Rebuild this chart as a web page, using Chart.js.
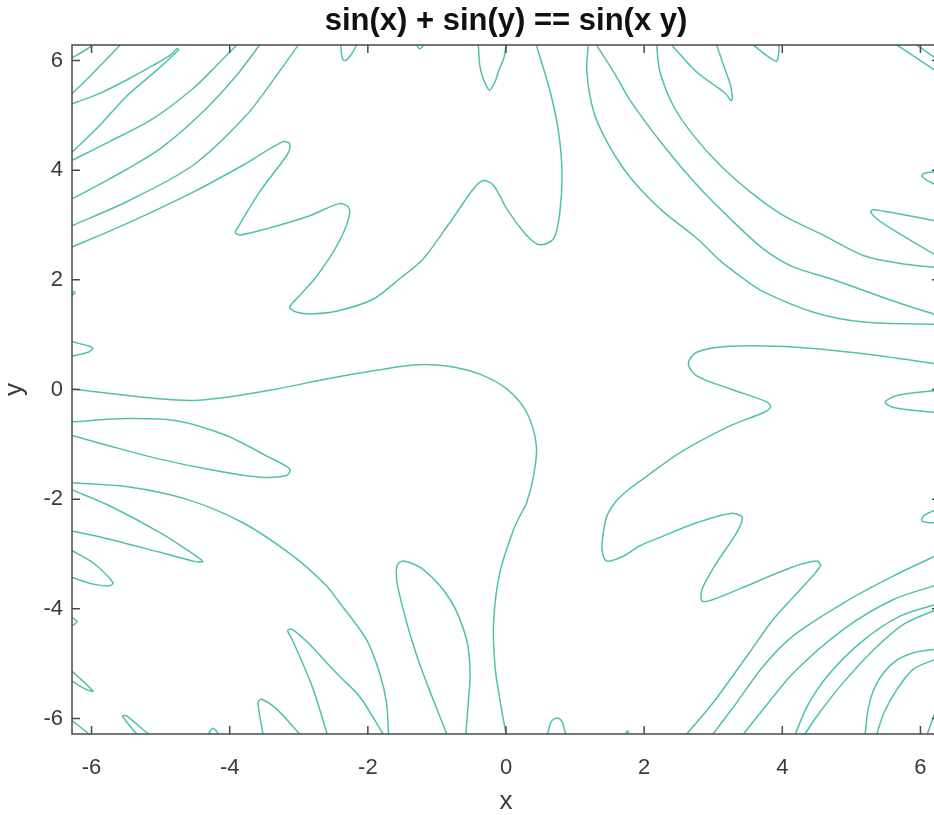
<!DOCTYPE html>
<html>
<head>
<meta charset="utf-8">
<script src="https://cdn.jsdelivr.net/npm/chart.js@4.4.0/dist/chart.umd.min.js"></script>
<style>
html, body { margin: 0; padding: 0; background: #fff; overflow: hidden; width: 934px; height: 815px; }
canvas { display: block; }
</style>
</head>
<body>
<canvas id="implicitPlot" width="940" height="815" style="width:940px;height:815px"></canvas>
<script>
// implicit curve sin(x) + sin(y) == sin(x*y), [x, y] pairs
const X_TICKS = [-6, -4, -2, 0, 2, 4, 6];
const Y_TICKS = [-6, -4, -2, 0, 2, 4, 6];
const LIMIT = 6.2832;

const cornerTopLeft = [[-6.28,6.05],[-6.13,6.16],[-5.98,6.28]];
const arcTopLeft1 = [[-6.28,5.40],[-6.08,5.64],[-5.84,5.95],[-5.59,6.28]];
const tongueTopLeft = [[-6.28,5.21],[-5.88,5.40],[-5.50,5.64],[-5.11,5.91],[-4.86,6.10],[-4.76,6.22],[-4.74,6.20],[-4.80,6.12],[-5.06,5.82],[-5.50,5.34],[-5.88,4.82],[-6.28,4.33]];
const arcTopLeft2 = [[-6.28,4.18],[-5.74,4.52],[-5.11,4.94],[-4.53,5.49],[-4.19,5.91],[-3.90,6.28]];
const arcTopLeft3 = [[-6.28,3.48],[-5.74,3.84],[-5.01,4.39],[-4.39,5.06],[-3.90,5.73],[-3.57,6.28]];
const arcTopLeft4 = [[-6.28,2.99],[-5.50,3.42],[-4.53,4.09],[-3.76,5.00],[-3.32,5.73],[-3.01,6.28]];
const loopTop1 = [[-2.39,6.28],[-2.38,6.10],[-2.34,6.00],[-2.27,6.06],[-2.16,6.28]];
const loopTop2 = [[-1.29,6.28],[-1.25,6.21],[-1.19,6.28]];
const loopTop3 = [[-0.40,6.28],[-0.38,5.91],[-0.33,5.67],[-0.24,5.46],[-0.16,5.61],[-0.11,5.80],[-0.03,6.05],[0.0,6.28]];
const zigTop = [[-6.28,2.60],[-5.50,3.02],[-4.53,3.60],[-3.81,4.09],[-3.23,4.52],[-3.13,4.48],[-3.16,4.30],[-3.57,3.60],[-3.86,3.00],[-3.92,2.86],[-3.84,2.82],[-3.47,2.93],[-2.84,3.17],[-2.41,3.39],[-2.27,3.30],[-2.31,2.99],[-2.50,2.51],[-2.77,2.02],[-2.99,1.71],[-3.13,1.50],[-3.03,1.41],[-2.79,1.38],[-2.41,1.44],[-1.92,1.65],[-1.54,2.02],[-1.20,2.38],[-0.81,3.05],[-0.47,3.66],[-0.33,3.81],[-0.18,3.72],[0.01,3.30],[0.30,2.81],[0.49,2.64],[0.69,2.75],[0.78,3.24],[0.81,3.97],[0.76,4.70],[0.64,5.43],[0.44,6.28]];
const arcTopRight1 = [[1.19,6.28],[1.17,5.79],[1.27,5.06],[1.46,4.52],[1.70,4.03],[1.94,3.66],[2.28,3.24],[2.77,2.75],[3.10,2.35],[3.44,2.02],[3.73,1.78],[4.45,1.41],[5.18,1.23],[6.28,1.19]];
const arcTopRight2 = [[1.31,6.28],[1.56,5.79],[1.80,5.27],[2.28,4.45],[2.77,3.72],[3.25,3.11],[3.72,2.57],[4.15,2.24],[4.70,2.02],[5.66,1.59],[6.28,1.34]];
const arcTopRight3 = [[2.18,6.28],[2.23,5.79],[2.42,5.18],[2.71,4.64],[3.10,4.09],[3.54,3.60],[4.02,3.17],[4.60,2.81],[5.18,2.44],[5.76,2.29],[6.28,2.22]];
const tongueTop1 = [[2.40,6.28],[2.76,5.79],[3.15,5.43],[3.27,5.27],[3.25,5.55],[3.15,5.91],[3.05,6.28]];
const loopTop4 = [[3.58,6.28],[3.83,6.04],[3.92,5.99],[3.95,6.16],[3.95,6.28]];
const cornerTopRight1 = [[5.66,6.28],[5.95,6.04],[6.28,5.76]];
const cornerTopRight2 = [[5.95,6.28],[6.28,5.99]];
const tongueRight1 = [[6.28,3.98],[6.05,3.94],[6.02,3.89],[6.10,3.81],[6.28,3.70]];
const tongueRight2 = [[6.28,3.06],[5.66,3.21],[5.32,3.28],[5.28,3.24],[5.37,3.11],[5.66,2.87],[6.14,2.51],[6.28,2.42]];
const snakeRight = [[6.28,0.46],[5.18,0.65],[4.22,0.77],[3.25,0.79],[2.76,0.68],[2.64,0.47],[2.76,0.25],[3.25,0.01],[3.78,-0.23],[3.83,-0.32],[3.73,-0.42],[3.25,-0.66],[2.52,-1.15],[2.04,-1.58],[1.78,-1.82],[1.60,-2.03],[1.46,-2.31],[1.41,-2.61],[1.39,-2.91],[1.46,-3.13],[1.70,-3.04],[1.94,-2.85],[2.28,-2.67],[2.76,-2.43],[3.25,-2.26],[3.42,-2.33],[3.34,-2.61],[3.05,-3.16],[2.84,-3.64],[2.84,-3.86],[3.00,-3.83],[3.49,-3.58],[4.12,-3.25],[4.50,-3.13],[4.55,-3.22],[4.31,-3.58],[3.87,-4.19],[3.49,-4.86],[3.00,-5.71],[2.62,-6.28]];
const tongueRight3 = [[6.28,-0.01],[5.66,-0.11],[5.49,-0.23],[5.61,-0.33],[6.28,-0.43]];
const tongueRight4 = [[6.28,-2.16],[6.05,-2.30],[6.02,-2.40],[6.14,-2.43],[6.28,-2.43]];
const arcBottomRight1 = [[6.28,-3.00],[5.61,-3.40],[4.89,-3.89],[4.16,-4.49],[3.73,-5.04],[3.34,-5.71],[3.00,-6.28]];
const arcBottomRight2 = [[6.28,-3.55],[5.61,-3.83],[4.89,-4.37],[4.16,-5.17],[3.68,-5.90],[3.44,-6.28]];
const arcBottomRight3 = [[6.28,-3.90],[5.71,-4.13],[5.13,-4.62],[4.65,-5.23],[4.36,-5.78],[4.19,-6.28]];
const arcBottomRight4 = [[6.28,-3.99],[5.76,-4.28],[5.28,-4.80],[4.84,-5.41],[4.50,-5.96],[4.33,-6.28]];
const arcBottomRight5 = [[6.28,-4.73],[5.90,-4.80],[5.61,-4.98],[5.37,-5.35],[5.25,-5.78],[5.20,-6.28]];
const arcBottomRight6 = [[6.28,-4.89],[5.90,-5.10],[5.66,-5.47],[5.47,-5.90],[5.37,-6.28]];
const arcBottomRight7 = [[6.28,-5.65],[6.10,-6.28]];
const throughOrigin = [[-6.28,0.01],[-5.01,-0.17],[-4.53,-0.20],[-4.05,-0.14],[-3.32,0.01],[-2.60,0.19],[-1.92,0.34],[-1.29,0.45],[-0.81,0.42],[-0.38,0.28],[0.01,0.01],[0.30,-0.42],[0.44,-1.03],[0.40,-1.57],[0.30,-2.06],[0.20,-2.31],[0.11,-2.55],[-0.09,-3.34],[-0.18,-4.25],[-0.16,-5.04],[-0.09,-5.65],[0.0,-6.28]];
const tongueLeft1 = [[-6.28,0.87],[-6.03,0.79],[-5.98,0.75],[-6.05,0.68],[-6.28,0.61]];
const dotLeft1 = [[-6.28,1.80],[-6.24,1.76],[-6.28,1.72]];
const tongueLeft2 = [[-6.28,-0.59],[-5.50,-0.53],[-4.77,-0.57],[-4.05,-0.84],[-3.47,-1.21],[-3.13,-1.45],[-3.18,-1.57],[-3.57,-1.60],[-4.29,-1.46],[-5.01,-1.27],[-5.74,-1.03],[-6.28,-0.84]];
const arcBottomLeft = [[-6.28,-1.70],[-5.50,-1.77],[-4.63,-2.00],[-3.81,-2.43],[-3.08,-3.04],[-2.60,-3.58],[-2.41,-3.89],[-2.02,-4.56],[-1.83,-5.17],[-1.73,-5.71],[-1.70,-6.28]];
const tongueLeft3 = [[-6.28,-1.83],[-5.74,-2.12],[-5.01,-2.61],[-4.53,-3.00],[-4.39,-3.14],[-4.53,-3.13],[-5.01,-2.97],[-5.74,-2.73],[-6.28,-2.58]];
const tongueLeft4 = [[-6.28,-2.94],[-5.98,-3.16],[-5.69,-3.52],[-5.74,-3.58],[-5.98,-3.55],[-6.28,-3.43]];
const dotLeft2 = [[-6.28,-4.16],[-6.21,-4.23],[-6.28,-4.31]];
const tongueLeft5 = [[-6.28,-5.14],[-5.98,-5.50],[-6.08,-5.47],[-6.28,-5.32]];
const cornerBottomLeft = [[-6.28,-6.04],[-6.04,-6.28]];
const tongueBottom1 = [[-5.35,-6.28],[-5.55,-5.96],[-5.50,-5.95],[-5.18,-6.28]];
const loopBottom1 = [[-4.31,-6.28],[-4.24,-6.18],[-4.16,-6.28]];
const tongueBottom2 = [[-3.52,-6.28],[-3.59,-5.71],[-3.54,-5.65],[-3.32,-5.83],[-2.99,-6.28]];
const tongueBottom3 = [[-2.59,-6.28],[-2.79,-5.47],[-2.99,-4.86],[-3.10,-4.55],[-3.16,-4.40],[-3.10,-4.37],[-2.84,-4.65],[-2.60,-4.98],[-2.41,-5.23],[-2.12,-5.60],[-1.78,-6.28]];
const tongueBottom4 = [[-0.86,-6.28],[-1.29,-4.86],[-1.56,-3.64],[-1.58,-3.22],[-1.49,-3.13],[-1.20,-3.28],[-0.81,-3.83],[-0.57,-4.56],[-0.52,-5.17],[-0.55,-5.77],[-0.58,-6.28]];
const loopBottom2 = [[0.60,-6.28],[0.66,-6.05],[0.75,-5.99],[0.82,-6.08],[0.86,-6.28]];
const loopBottom3 = [[1.73,-6.28],[1.76,-6.23],[1.78,-6.28]];

const curves = [
	cornerTopLeft, arcTopLeft1, tongueTopLeft, arcTopLeft2, arcTopLeft3, arcTopLeft4,
	loopTop1, loopTop2, loopTop3, zigTop, arcTopRight1, arcTopRight2, arcTopRight3,
	tongueTop1, loopTop4, cornerTopRight1, cornerTopRight2, tongueRight1, tongueRight2,
	snakeRight, tongueRight3, tongueRight4, arcBottomRight1, arcBottomRight2,
	arcBottomRight3, arcBottomRight4, arcBottomRight5, arcBottomRight6, arcBottomRight7,
	throughOrigin, tongueLeft1, dotLeft1, tongueLeft2, arcBottomLeft, tongueLeft3,
	tongueLeft4, dotLeft2, tongueLeft5, cornerBottomLeft, tongueBottom1, loopBottom1,
	tongueBottom2, tongueBottom3, tongueBottom4, loopBottom2, loopBottom3,
];

const LINE_COLOR = "#4fc3a5";
const FONT = "'Liberation Sans', Arial, Helvetica, sans-serif";

// title sits over the plot box, not over the whole canvas
const centerTitle = {
	id: "centerTitle",
	afterLayout(chart) {
		const t = chart.titleBlock;
		if (!t) return;
		t.left = chart.chartArea.left;
		t.right = chart.chartArea.right;
		t.width = t.right - t.left;
	},
};

// box with inward tick marks on all four sides, like the original
const boxFrame = {
	id: "boxFrame",
	afterDatasetsDraw(chart) {
		const { ctx, chartArea: a, scales } = chart;
		ctx.save();
		ctx.strokeStyle = "#4a4a4a";
		ctx.lineWidth = 1.5;
		ctx.strokeRect(a.left, a.top, a.right - a.left, a.bottom - a.top);
		ctx.beginPath();
		X_TICKS.forEach((v) => {
			const p = scales.x.getPixelForValue(v);
			ctx.moveTo(p, a.bottom); ctx.lineTo(p, a.bottom - 8);
			ctx.moveTo(p, a.top); ctx.lineTo(p, a.top + 8);
		});
		Y_TICKS.forEach((v) => {
			const p = scales.y.getPixelForValue(v);
			ctx.moveTo(a.left, p); ctx.lineTo(a.left + 8, p);
			ctx.moveTo(a.right, p); ctx.lineTo(a.right - 8, p);
		});
		ctx.stroke();
		ctx.restore();
	},
};

function drawChart() {
	const ctx = document.getElementById("implicitPlot");
	new Chart(ctx, {
		type: "scatter",
		data: {
			datasets: curves.map((c) => ({
				data: c.map(([x, y]) => ({ x, y })),
				showLine: true,
				borderColor: LINE_COLOR,
				borderWidth: 1.5,
				pointRadius: 0,
				tension: 0.3,
			})),
		},
		options: {
			responsive: false,
			animation: false,
			events: [],
			layout: { padding: 0 },
			plugins: {
				legend: { display: false },
				tooltip: { enabled: false },
				title: {
					display: true,
					text: "sin(x) + sin(y) == sin(x y)",
					color: "#111",
					font: { family: FONT, size: 31, weight: "bold", lineHeight: 1.2 },
					padding: { top: 3, bottom: 4.8 },
				},
			},
			scales: {
				x: {
					type: "linear",
					min: -LIMIT,
					max: LIMIT,
					grid: { display: false, drawTicks: false },
					border: { display: false },
					afterBuildTicks: (s) => { s.ticks = X_TICKS.map((v) => ({ value: v })); },
					afterFit: (s) => { s.height = 81; s.paddingLeft = 0; s.paddingRight = 0; },
					ticks: { color: "#3a3a3a", padding: 21, font: { family: FONT, size: 22 } },
					title: {
						display: true,
						text: "x",
						color: "#3a3a3a",
						font: { family: FONT, size: 26, lineHeight: 1 },
						padding: { top: 0, bottom: 0 },
					},
				},
				y: {
					type: "linear",
					min: -LIMIT,
					max: LIMIT,
					grid: { display: false, drawTicks: false },
					border: { display: false },
					afterBuildTicks: (s) => { s.ticks = Y_TICKS.map((v) => ({ value: v })); },
					afterFit: (s) => { s.width = 72; },
					ticks: { color: "#3a3a3a", padding: 9, font: { family: FONT, size: 22 } },
					title: {
						display: true,
						text: "y",
						color: "#3a3a3a",
						font: { family: FONT, size: 26, lineHeight: 1 },
						padding: { top: 2, bottom: 0 },
					},
				},
			},
		},
		plugins: [centerTitle, boxFrame],
	});
}

drawChart();
</script>
</body>
</html>
